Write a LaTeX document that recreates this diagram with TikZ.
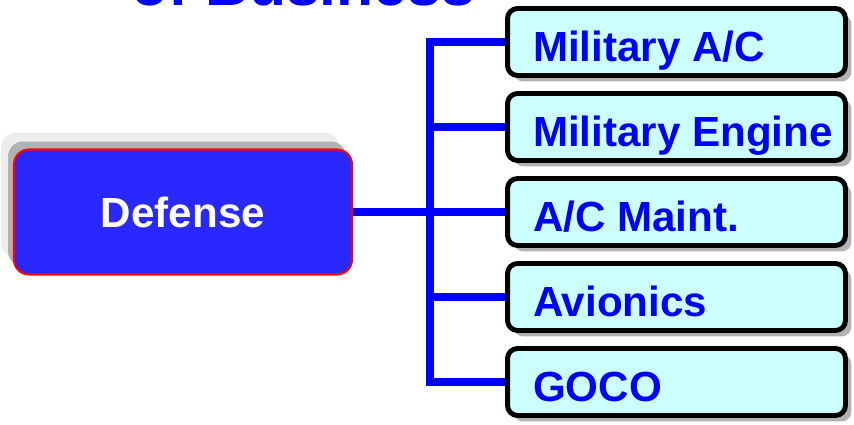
\documentclass[tikz,border=0pt]{standalone}
\usepackage{fontspec}
\setmainfont{Liberation Sans}
\usepackage{tikz}
\usetikzlibrary{shadows}

\definecolor{linkblue}{RGB}{0,0,255}
\definecolor{deffill}{RGB}{40,40,255}
\definecolor{subfill}{RGB}{204,255,255}

\begin{document}
\begin{tikzpicture}[x=0.02cm,y=0.02cm,
    defbox/.style={draw=red, line width=1.2pt, fill=deffill, rounded corners=0.3cm,
      minimum width=6.76cm, minimum height=2.5cm, text=white,
      font=\fontsize{24}{28}\selectfont\bfseries,
      drop shadow={shadow xshift=-0.26cm, shadow yshift=0.34cm, fill=black!7, opacity=1},
      drop shadow={shadow xshift=-0.12cm, shadow yshift=0.16cm, fill=black!30, opacity=1}},
    subbox/.style={draw=black, line width=2.8pt, fill=subfill, rounded corners=0.2cm,
      minimum width=6.76cm, minimum height=1.34cm, inner xsep=0.51cm, inner ysep=0pt,
      text=linkblue, text height=23pt, text depth=1.2pt,
      execute at begin node={\hbox to 5.74cm\bgroup\hbox to 0pt\bgroup},
      execute at end node={\hss\egroup\hfil\egroup},
      font=\fontsize{24}{28}\selectfont\bfseries,
      drop shadow={shadow xshift=0.12cm, shadow yshift=-0.12cm, fill=black!30, opacity=1}},
    link/.style={draw=linkblue, line width=4.2pt, line join=miter}]
  \path[use as bounding box, clip] (0,0) rectangle (854,425);

  % heading, cut off at the top
  \node[anchor=base west, inner sep=0pt, text=linkblue,
    font=\fontsize{34.5}{40}\selectfont\bfseries] (title) at (131,419) {of Business};

  \node[defbox] (def) at (183,213) {Defense};

  \node[subbox] (mac) at (676.5,383) {Military A/C};
  \node[subbox] (meng) at (676.5,298) {Military Engine};
  \node[subbox] (maint) at (676.5,213) {A/C Maint.};
  \node[subbox] (avio) at (676.5,128) {Avionics};
  \node[subbox] (goco) at (676.5,43) {GOCO};

  \coordinate (fork) at (430,213);

  % connectors
  \draw[link] (def.east) -- (maint.west);
  \draw[link] (mac.west) -| (fork |- goco.west) -- (goco.west);
  \draw[link] (fork |- meng.west) -- (meng.west);
  \draw[link] (fork |- avio.west) -- (avio.west);
\end{tikzpicture}
\end{document}
